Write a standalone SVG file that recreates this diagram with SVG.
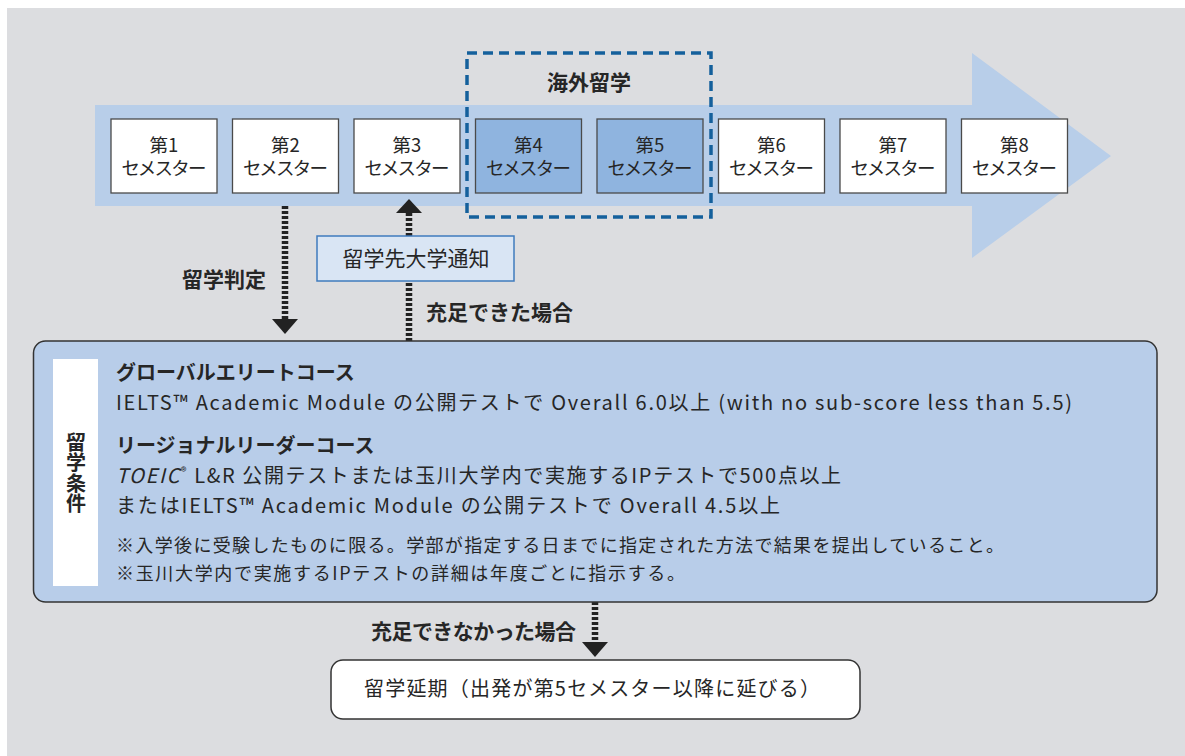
<svg xmlns="http://www.w3.org/2000/svg" width="1185" height="756" viewBox="0 0 1185 756">
<defs>
<style>
text{font-family:"Noto Sans CJK JP","Noto Sans",sans-serif;fill:#262626}
.sem{fill:#fff;stroke:#4a4a4a;stroke-width:1.3}
.semb{fill:#8fb4df;stroke:#4a4a4a;stroke-width:1.3}
.st{font-size:18.5px;text-anchor:middle}
.lbl{font-size:21px;font-weight:700}
.main{font-size:20px}
.hd{font-size:20px;font-weight:700}
.note{font-size:18px}
.dot{stroke:#222;stroke-width:6.5;stroke-dasharray:3 2;fill:none}
.head{fill:#222}
</style>
</defs>
<rect x="7" y="8" width="1178" height="748" fill="#dcdde0"/>
<polygon id="timeline-arrow" points="95,105 972,105 972,53 1111,156 972,258 972,206 95,206" fill="#b8cee9"/>

<g id="overseas-frame">
<rect x="467" y="53" width="244" height="164" fill="none" stroke="#14609c" stroke-width="3.5" stroke-dasharray="10 6"/>
<text x="589" y="90" class="lbl" text-anchor="middle" font-size="20">海外留学</text>
</g>

<g id="sem1"><rect class="sem" x="111" y="119" width="106" height="74"/><text class="st"><tspan x="164" y="152">第1</tspan><tspan x="164" y="175" textLength="85">セメスター</tspan></text></g>
<g id="sem2"><rect class="sem" x="232.5" y="119" width="106" height="74"/><text class="st"><tspan x="285.5" y="152">第2</tspan><tspan x="285.5" y="175" textLength="85">セメスター</tspan></text></g>
<g id="sem3"><rect class="sem" x="354" y="119" width="106" height="74"/><text class="st"><tspan x="407" y="152">第3</tspan><tspan x="407" y="175" textLength="85">セメスター</tspan></text></g>
<g id="sem4"><rect class="semb" x="475.5" y="119" width="106" height="74"/><text class="st"><tspan x="528.5" y="152">第4</tspan><tspan x="528.5" y="175" textLength="85">セメスター</tspan></text></g>
<g id="sem5"><rect class="semb" x="597" y="119" width="106" height="74"/><text class="st"><tspan x="650" y="152">第5</tspan><tspan x="650" y="175" textLength="85">セメスター</tspan></text></g>
<g id="sem6"><rect class="sem" x="718.5" y="119" width="106" height="74"/><text class="st"><tspan x="771.5" y="152">第6</tspan><tspan x="771.5" y="175" textLength="85">セメスター</tspan></text></g>
<g id="sem7"><rect class="sem" x="840" y="119" width="106" height="74"/><text class="st"><tspan x="893" y="152">第7</tspan><tspan x="893" y="175" textLength="85">セメスター</tspan></text></g>
<g id="sem8"><rect class="sem" x="961.5" y="119" width="106" height="74"/><text class="st"><tspan x="1014.5" y="152">第8</tspan><tspan x="1014.5" y="175" textLength="85">セメスター</tspan></text></g>

<g id="connectors">
<line class="dot" x1="285" y1="206" x2="285" y2="319"/>
<polygon class="head" points="272,319 298,319 285,334"/>
<line class="dot" x1="409" y1="213" x2="409" y2="341"/>
<polygon class="head" points="396,213 422,213 409,199"/>
<line class="dot" x1="595" y1="602" x2="595" y2="642"/>
<polygon class="head" points="582,642 608,642 595,657"/>
<text class="lbl" x="182" y="287">留学判定</text>
<text class="lbl" x="426" y="320">充足できた場合</text>
<text class="lbl" x="371" y="638.5" font-size="20" textLength="205">充足できなかった場合</text>
</g>

<g id="notice">
<rect x="317" y="236" width="197" height="45" fill="#d9e5f4" stroke="#3f7bbd" stroke-width="1.5"/>
<text x="416" y="266" font-size="21" text-anchor="middle">留学先大学通知</text>
</g>

<g id="conditions">
<rect x="33.5" y="341" width="1123.5" height="261" rx="12" fill="#b8cde9" stroke="#333" stroke-width="1.5"/>
<rect x="53" y="359" width="45" height="227" fill="#fff"/>
<text x="76" y="432" font-size="20" font-weight="700" writing-mode="vertical-rl" letter-spacing="0.5">留学条件</text>
<text class="hd" x="116" y="380">グローバルエリートコース</text>
<text class="main" x="116" y="410" textLength="956">IELTS™ Academic Module の公開テストで Overall 6.0以上 (with no sub-score less than 5.5)</text>
<text class="hd" x="116" y="453">リージョナルリーダーコース</text>
<text class="main" x="116" y="483" textLength="725"><tspan font-style="italic">TOEIC</tspan><tspan font-size="12" dy="-7">®</tspan><tspan dy="7"> L&amp;R 公開テストまたは玉川大学内で実施するIPテストで500点以上</tspan></text>
<text class="main" x="116" y="513" textLength="664">またはIELTS™ Academic Module の公開テストで Overall 4.5以上</text>
<text class="note" x="116" y="552" textLength="888">※入学後に受験したものに限る。学部が指定する日までに指定された方法で結果を提出していること。</text>
<text class="note" x="116" y="580" textLength="569">※玉川大学内で実施するIPテストの詳細は年度ごとに指示する。</text>
</g>

<g id="postpone">
<rect x="331" y="660" width="529" height="59" rx="12" fill="#fff" stroke="#333" stroke-width="1.5"/>
<text x="364" y="696" font-size="20" textLength="456">留学延期（出発が第5セメスター以降に延びる）</text>
</g>
</svg>
